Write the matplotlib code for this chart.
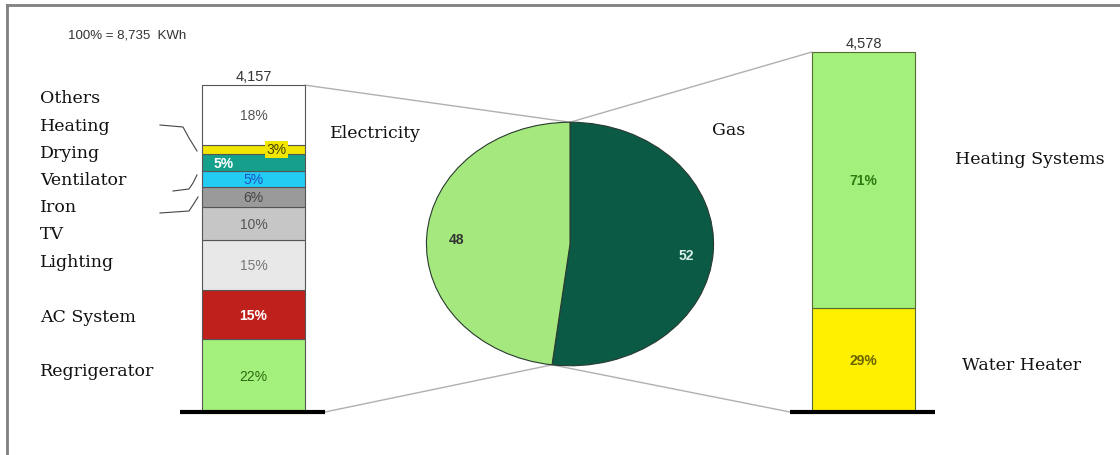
import matplotlib
matplotlib.use("Agg")
import matplotlib.pyplot as plt
from matplotlib.lines import Line2D
from matplotlib.patches import ConnectionPatch
import numpy as np

# ---- data ---------------------------------------------------------------
total_kwh = "8,735"
elec_total = 4157
gas_total = 4578

elec_uses = ["Regrigerator", "AC System", "Lighting", "TV", "Iron",
             "Ventilator", "Drying", "Heating", "Others"]
elec_pct = [22, 15, 15, 10, 6, 5, 5, 3, 18]

gas_uses = ["Water Heater", "Heating Systems"]
gas_pct = [29, 71]

pie_labels = ["Gas", "Electricity"]
pie_share = [52, 48]

# ---- styling ------------------------------------------------------------
elec_colors = ["#a4f07c", "#c0201c", "#e8e8e8", "#c6c6c6", "#9a9a9a",
               "#22ccf2", "#15a08c", "#f2e600", "#ffffff"]
elec_text = ["#2c6a12", "#ffffff", "#777777", "#555555", "#444444",
             "#2050c8", "#ffffff", "#444400", "#555555"]
gas_colors = ["#fff000", "#a4f07c"]
gas_text = ["#6a6400", "#2c7a12"]
pie_colors = ["#0b5a46", "#a4e87e"]

W, H = 1120, 456
fig = plt.figure(figsize=(W / 100, H / 100), dpi=100)
fig.patch.set_facecolor("white")

# main axes: x in pixels, y in kWh with the baseline at pixel row 413
base_px = 413
scale = 360 / gas_total
ax = fig.add_axes([0, 0, 1, 1])
ax.set_xlim(0, W)
ax.set_ylim(-(H - base_px) / scale, base_px / scale)
ax.axis("off")


def fx(x):
    return x / W


def fy(y):
    return 1 - y / H


serif = "DejaVu Serif"
sans = "Liberation Sans"
label_size = 12.5

# frame
fig.add_artist(Line2D([fx(7), fx(W)], [fy(5.5), fy(5.5)], color="#808080", lw=2))
fig.add_artist(Line2D([fx(7), fx(7)], [fy(5.5), fy(H)], color="#808080", lw=2))

fig.text(fx(68), fy(35), f"100% = {total_kwh}  KWh", fontsize=9.5, family=sans,
         color="#333333", va="center", ha="left")

# ---- electricity stacked bar ------------------------------------------
lx, bw = 253.5, 103
vals = np.array(elec_pct) / sum(elec_pct) * elec_total
bottoms = np.concatenate([[0], np.cumsum(vals)[:-1]])
ax.bar([lx] * len(vals), vals, bottom=bottoms, width=bw, color=elec_colors,
       edgecolor="#555555", linewidth=0.8)
for i, (v, b) in enumerate(zip(vals, bottoms)):
    tx, ha = lx, "center"
    kw = {}
    if elec_uses[i] == "Drying":
        tx, ha = lx - 40, "left"
    if elec_uses[i] == "Heating":
        tx = lx + 23
        kw = dict(bbox=dict(boxstyle="square,pad=0.1", fc="#f2e600", ec="none"))
    ax.text(tx, b + v / 2, f"{elec_pct[i]}%", ha=ha, va="center", fontsize=10,
            family=sans, fontweight="bold" if elec_text[i] == "#ffffff" else "normal",
            color=elec_text[i], **kw)
ax.text(lx, elec_total + 30, f"{elec_total:,}", ha="center", va="bottom",
        fontsize=10.5, family=sans, color="#333333")
ax.plot([180, 325], [0, 0], color="black", lw=3, solid_capstyle="butt")

label_y = [99, 127, 154, 181, 208, 235, 263, 317, 371][::-1]
for name, y in zip(elec_uses, label_y):
    fig.text(fx(40), fy(y), name, fontsize=label_size, family=serif, va="center",
             ha="left", color="#111111")

# bracket strokes beside the small slices
for xs, ys in [([160, 183, 189, 197], [126, 128, 139, 152]),
               ([173, 189, 193, 197], [192, 190, 184, 176]),
               ([160, 189, 193, 198], [214, 212, 206, 198])]:
    fig.add_artist(Line2D([fx(x) for x in xs], [fy(y) for y in ys],
                          color="#444444", lw=0.8))

# ---- gas stacked bar ---------------------------------------------------
rx = 863.5
gvals = np.array(gas_pct) / sum(gas_pct) * gas_total
gbot = np.concatenate([[0], np.cumsum(gvals)[:-1]])
ax.bar([rx] * len(gvals), gvals, bottom=gbot, width=bw, color=gas_colors,
       edgecolor="#556b2f", linewidth=0.8)
for i, (v, b) in enumerate(zip(gvals, gbot)):
    ax.text(rx, b + v / 2, f"{gas_pct[i]}%", ha="center", va="center",
            fontsize=10, family=sans, fontweight="bold", color=gas_text[i])
ax.text(rx, gas_total + 30, f"{gas_total:,}", ha="center", va="bottom",
        fontsize=10.5, family=sans, color="#333333")
ax.plot([790, 935], [0, 0], color="black", lw=3, solid_capstyle="butt")

gas_label_pos = [(962, 366), (955, 160)]
for name, (x, y) in zip(gas_uses, gas_label_pos):
    fig.text(fx(x), fy(y), name, fontsize=label_size, family=serif, va="center",
             ha="left", color="#111111")

# ---- pie ----------------------------------------------------------------
cx, cy, rw, rh = 570, 245, 145, 123
pax = fig.add_axes([fx(cx - rw), fy(cy + rh), 2 * rw / W, 2 * rh / H])
pax.pie(pie_share, colors=pie_colors, startangle=90, counterclock=False,
        radius=1, wedgeprops=dict(edgecolor="#2a3a30", linewidth=0.8))
pax.set_aspect("auto")
pax.set_xlim(-1.01, 1.01)
pax.set_ylim(-1.01, 1.01)
pax.axis("off")

pax.text(0.81, -0.09, f"{pie_share[0]}", ha="center", va="center", fontsize=10,
         family=sans, fontweight="bold", color="#d8f0e8")
pax.text(-0.79, 0.04, f"{pie_share[1]}", ha="center", va="center", fontsize=10,
         family=sans, fontweight="bold", color="#333333")

fig.text(fx(330), fy(133), "Electricity", fontsize=label_size, family=serif,
         va="center", ha="left", color="#111111")
fig.text(fx(712), fy(131), "Gas", fontsize=label_size, family=serif,
         va="center", ha="left", color="#111111")

# connector lines between the pie and the bars
theta = np.deg2rad(90 - 360 * pie_share[0] / sum(pie_share))
top_pt = (0, 1)
bot_pt = (np.cos(theta), np.sin(theta))
for xyA, xyB in [((lx + bw / 2, elec_total), top_pt),
                 ((325, 0), bot_pt),
                 ((rx - bw / 2, gas_total), top_pt),
                 ((790, 0), bot_pt)]:
    con = ConnectionPatch(xyA=xyA, coordsA=ax.transData, xyB=xyB,
                          coordsB=pax.transData, color="#b0b0b0", lw=1)
    fig.add_artist(con)
    con.set_zorder(0)

fig.savefig("out.png", dpi=100, facecolor="white")
